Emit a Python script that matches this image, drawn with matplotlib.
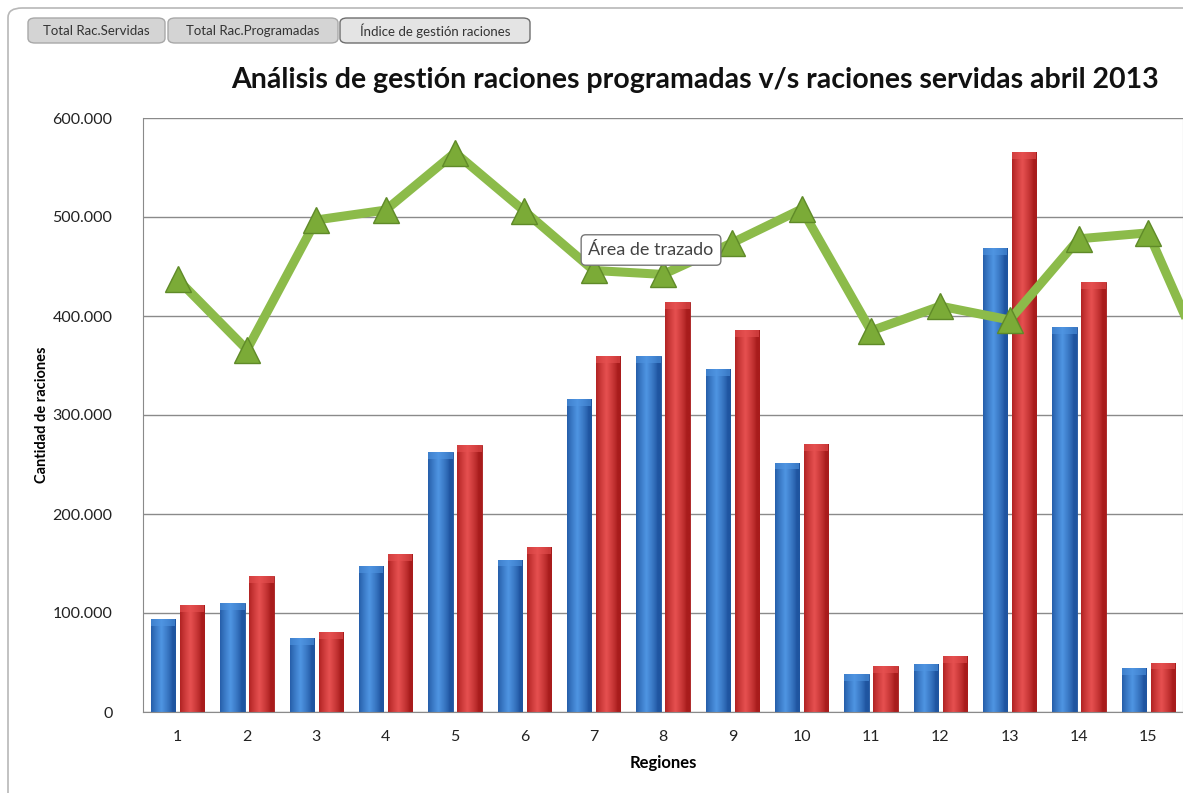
import numpy as np
import matplotlib
matplotlib.use('Agg')
import matplotlib.pyplot as plt
from matplotlib.patches import FancyBboxPatch, Rectangle
from matplotlib.ticker import FuncFormatter

# datos (abril 2013)
regiones = list(range(1, 16))
rac_servidas = [94000, 110000, 75000, 147000, 263000, 154000, 316000, 360000,
                346000, 252000, 38000, 48000, 469000, 389000, 44000]
rac_programadas = [108000, 137000, 81000, 160000, 270000, 167000, 360000, 414000,
                   386000, 271000, 46000, 57000, 566000, 434000, 50000]
# indice de gestion, dibujado sobre la misma escala (la region 16 queda cortada)
indice_x = list(range(1, 17))
indice = [437000, 366000, 497000, 507000, 565000, 506000, 446000, 442000,
          474000, 508000, 385000, 410000, 396000, 478000, 484000, 325000]
y_ticks = [0, 100000, 200000, 300000, 400000, 500000, 600000]

W, H = 1183, 793
fig = plt.figure(figsize=(W / 100, H / 100), dpi=100)
fig.patch.set_facecolor('white')
plt.rcParams['font.family'] = ['Lato', 'DejaVu Sans']

def px(x, y):
    return x / W, 1 - y / H

# marco exterior (abierto por abajo y a la derecha)
fig.patches.append(FancyBboxPatch(px(8, 820), (W + 20) / W, (820 - 8) / H,
                                  boxstyle='round,pad=0,rounding_size=0.012',
                                  transform=fig.transFigure, fill=False,
                                  edgecolor='#b8b8b8', linewidth=1.2))

# botones de arriba
tabs = [('Total Rac.Servidas', 28, 165, False),
        ('Total Rac.Programadas', 168, 338, False),
        ('Índice de gestión raciones', 340, 530, True)]
for label, x0, x1, sel in tabs:
    bx, by = px(x0, 43)
    fig.patches.append(FancyBboxPatch((bx, by), (x1 - x0) / W, 25 / H,
                                      boxstyle='round,pad=0,rounding_size=0.006',
                                      transform=fig.transFigure,
                                      facecolor='#e4e4e4' if sel else '#d4d4d4',
                                      edgecolor='#6e6e6e' if sel else '#a8a8a8',
                                      linewidth=1.0))
    tx, ty = px((x0 + x1) / 2, 31)
    fig.text(tx, ty, label, ha='center', va='center', fontsize=9.5, color='#333333')

ax = fig.add_axes([143 / W, (H - 712) / H, (W - 143) / W, (712 - 118) / H])
ax.set_xlim(0.5, 15.5)
ax.set_ylim(0, 600000)

x = np.array(regiones, dtype=float)
bw = 0.35

def grad_bars(xs, hs, dark, light):
    bars = ax.bar(xs, hs, width=bw, color=dark, linewidth=0.6, edgecolor=dark, zorder=2)
    g = np.linspace(0, 1, 64)
    prof = np.clip(1 - np.abs(g - 0.42) * 2.2, 0, 1) ** 0.8
    c0 = np.array(matplotlib.colors.to_rgb(dark))
    c1 = np.array(matplotlib.colors.to_rgb(light))
    img = (c0[None, :] + (c1 - c0)[None, :] * prof[:, None])[None, :, :]
    for b in bars:
        bx, by = b.get_x(), b.get_y()
        bwid, bh = b.get_width(), b.get_height()
        im = ax.imshow(img, extent=(bx, bx + bwid, by, by + bh), aspect='auto',
                       origin='lower', zorder=2.1, interpolation='bilinear')
        im.set_clip_path(b)
        # tapa clara arriba
        cap = Rectangle((bx, by + bh - 7000), bwid, 7000, facecolor=light,
                        alpha=0.6, edgecolor='none', zorder=2.2)
        ax.add_patch(cap)
        cap.set_clip_path(b)
    return bars

grad_bars(x - 0.21, rac_servidas, '#1f55a0', '#4f95e2')
grad_bars(x + 0.21, rac_programadas, '#a81c1c', '#e65050')
ax.set_xlim(0.5, 15.5)
ax.set_ylim(0, 600000)

ax.plot(indice_x, indice, color='#8cbb4a', linewidth=6.5, zorder=3,
        solid_joinstyle='miter', clip_on=True)
ax.plot(indice_x, indice, linestyle='none', marker='^', markersize=19,
        markerfacecolor='#7bab37', markeredgecolor='#5f8a28', markeredgewidth=1,
        zorder=4)

ax.set_yticks(y_ticks)
ax.yaxis.set_major_formatter(FuncFormatter(lambda v, p: f'{int(v):,}'.replace(',', '.')))
ax.set_xticks(regiones)
ax.tick_params(axis='both', length=0, labelsize=11.5, colors='#222222')
ax.tick_params(axis='y', pad=22)
ax.tick_params(axis='x', pad=13)
ax.grid(axis='y', color='#8a8a8a', linewidth=1.0, zorder=0)
ax.set_axisbelow(True)
for s in ['left', 'bottom']:
    ax.spines[s].set_color('#8a8a8a')
ax.spines['top'].set_visible(False)
ax.spines['right'].set_color('#a0a0a0')

ax.set_xlabel('Regiones', fontsize=12, fontweight='bold', labelpad=8)
fig.text(42 / W, 1 - 415 / H, 'Cantidad de raciones', rotation=90, ha='center',
         va='center', fontsize=10.5, fontweight='bold')

tx, ty = px(695, 80)
fig.text(tx, ty, 'Análisis de gestión raciones programadas v/s raciones servidas abril 2013',
         ha='center', va='center', fontsize=20.5, fontweight='bold', color='#111111')

# etiqueta emergente
tx, ty = px(651, 250)
fig.text(tx, ty, 'Área de trazado', ha='center', va='center', fontsize=13,
         color='#444444', zorder=10,
         bbox=dict(boxstyle='round,pad=0.4,rounding_size=0.25', facecolor='white',
                   edgecolor='#777777', linewidth=1))

fig.savefig('out.png', dpi=100)
